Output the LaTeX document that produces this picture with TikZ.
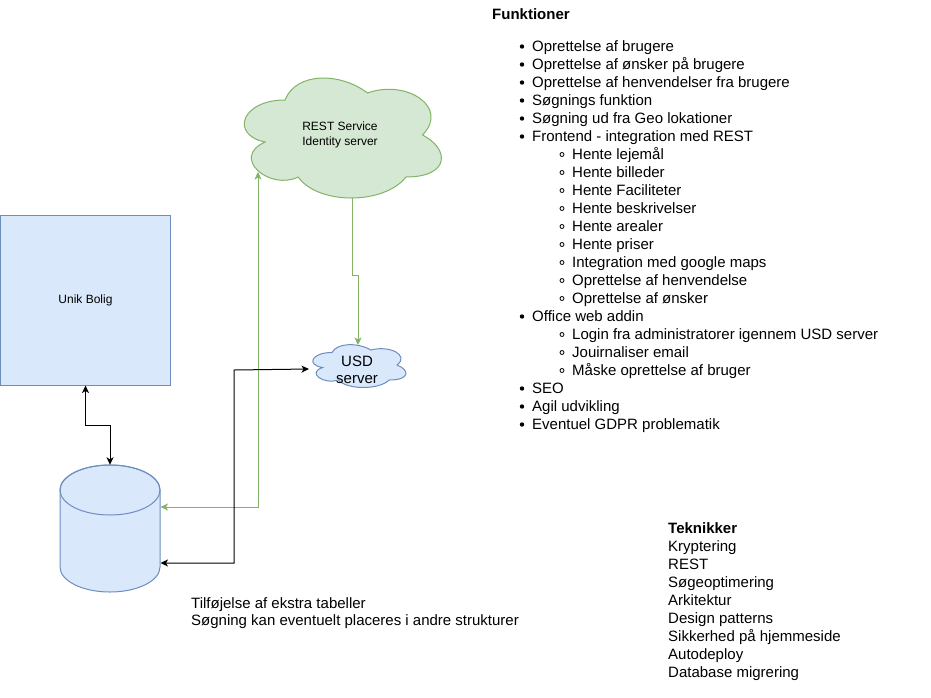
\documentclass[tikz,border=0pt]{standalone}
\usepackage{fontspec}
\setmainfont{Liberation Sans}
\usetikzlibrary{arrows.meta}
\definecolor{bluefill}{HTML}{DAE8FC}
\definecolor{bluedraw}{HTML}{6C8EBF}
\definecolor{greenfill}{HTML}{D5E8D4}
\definecolor{greendraw}{HTML}{82B366}
\newcommand{\drawcloudshape}[5]{%
  \path[#1] ({#2+0.25*#4},{#3+0.25*#5})
   .. controls ({#2+0.05*#4},{#3+0.25*#5}) and ({#2},{#3+0.5*#5}) .. ({#2+0.16*#4},{#3+0.55*#5})
   .. controls ({#2},{#3+0.66*#5}) and ({#2+0.18*#4},{#3+0.9*#5}) .. ({#2+0.31*#4},{#3+0.8*#5})
   .. controls ({#2+0.4*#4},{#3+#5}) and ({#2+0.7*#4},{#3+#5}) .. ({#2+0.8*#4},{#3+0.8*#5})
   .. controls ({#2+#4},{#3+0.8*#5}) and ({#2+#4},{#3+0.6*#5}) .. ({#2+0.875*#4},{#3+0.5*#5})
   .. controls ({#2+#4},{#3+0.3*#5}) and ({#2+0.8*#4},{#3+0.1*#5}) .. ({#2+0.625*#4},{#3+0.2*#5})
   .. controls ({#2+0.5*#4},{#3+0.05*#5}) and ({#2+0.3*#4},{#3+0.05*#5}) .. ({#2+0.25*#4},{#3+0.25*#5})
   -- cycle;}
\tikzset{
  blueshape/.style={draw=bluedraw, fill=bluefill, line width=1pt},
  greenshape/.style={draw=greendraw, fill=greenfill, line width=1pt},
  tip/.tip={Stealth[length=7.5pt,width=7pt,inset=2pt]},
  blkconn/.style={draw=black, line width=1pt, tip-tip},
  grnconn/.style={draw=greendraw, line width=1pt, tip-tip},
  grnone/.style={draw=greendraw, line width=1pt, -tip},
  lbl/.style={font=\fontsize{15}{18}\selectfont, anchor=base west, inner sep=0pt},
  lblbold/.style={lbl, font=\fontsize{15}{18}\selectfont\bfseries},
  small/.style={font=\fontsize{12}{14.4}\selectfont, align=center, inner sep=0pt},
}
\begin{document}
\begin{tikzpicture}[x=1pt,y=-1pt]
\fill[white] (0,0) rectangle (931,697);
\useasboundingbox (0,0) rectangle (931,697);

% Unik Bolig
\node[blueshape, minimum width=170pt, minimum height=170pt, inner sep=0pt,
      font=\fontsize{12}{14.4}\selectfont] (ub) at (85.5,300) {Unik Bolig};

% database cylinder
\path[blueshape] (60,490) -- (60,567) arc[start angle=180, end angle=0, x radius=50, y radius=25]
   -- (160,490) arc[start angle=0, end angle=-180, x radius=50, y radius=25] -- cycle;
\draw[draw=bluedraw, line width=1pt] (110,490) ellipse[x radius=50, y radius=25];
\node[minimum width=100pt, minimum height=127pt, inner sep=0pt] (db) at (110,528.5) {};

% clouds
\drawcloudshape{greenshape}{230}{65}{220}{140}
\node[small, minimum width=220pt, minimum height=140pt] (rest) at (340,135) {REST Service\\Identity server};
\drawcloudshape{blueshape}{306}{340}{104}{50}
\node[minimum width=104pt, minimum height=50pt, inner sep=0pt] (usd) at (358,365) {};
\node[font=\fontsize{15}{17}\selectfont, align=center, inner sep=0pt] (usdlabel) at (357,369.5) {USD\\server};

% connector coordinates
\coordinate (a1) at (ub.south);
\coordinate (a2) at (85.5,425);
\coordinate (a3) at (110,425);
\coordinate (a4) at (db.north);
\coordinate (g1) at (258,172);
\coordinate (g2) at (160.5,507);
\coordinate (h1) at (352,198);
\coordinate (h2) at (352,275);
\coordinate (h3) at (358,275);
\coordinate (h4) at (358,345);
\coordinate (b1) at (160.5,563);
\coordinate (b2) at (234,370);
\coordinate (b3) at (309,369);

\draw[blkconn] (a1) -- (a2) -- (a3) -- (a4);
\draw[grnconn] (g1) |- (g2);
\draw[grnone] (h1) -- (h2) -- (h3) -- (h4);
\draw[blkconn] (b1) -| (b2) -- (b3);

% Funktioner list
\node[lblbold] (ftitle) at (492,19) {Funktioner};
\foreach \lev/\txt [count=\i from 0] in {
  1/Oprettelse af brugere,
  1/Oprettelse af ønsker på brugere,
  1/Oprettelse af henvendelser fra brugere,
  1/Søgnings funktion,
  1/Søgning ud fra Geo lokationer,
  1/Frontend - integration med REST,
  2/Hente lejemål,
  2/Hente billeder,
  2/Hente Faciliteter,
  2/Hente beskrivelser,
  2/Hente arealer,
  2/Hente priser,
  2/Integration med google maps,
  2/Oprettelse af henvendelse,
  2/Oprettelse af ønsker,
  1/Office web addin,
  2/Login fra administratorer igennem USD server,
  2/Jouirnaliser email,
  2/Måske oprettelse af bruger,
  1/SEO,
  1/Agil udvikling,
  1/Eventuel GDPR problematik}
{
  \pgfmathsetmacro{\yb}{51.5+18*\i}
  \ifnum\lev=1
    \fill (522,\yb-5) circle[radius=2.2pt];
    \node[lbl] (f\i) at (532,\yb) {\txt};
  \else
    \draw[line width=0.8pt] (562,\yb-5) circle[radius=2pt];
    \node[lbl] (f\i) at (572,\yb) {\txt};
  \fi
}

% Teknikker
\node[lblbold] (ttitle) at (668,533) {Teknikker};
\foreach \txt [count=\i from 1] in {Kryptering, REST, Søgeoptimering, Arkitektur,
  Design patterns, Sikkerhed på hjemmeside, Autodeploy, Database migrering}
{
  \pgfmathsetmacro{\yb}{533+18*\i}
  \node[lbl] (t\i) at (668,\yb) {\txt};
}

% note
\node[lbl] (note1) at (191,608.5) {Tilføjelse af ekstra tabeller};
\node[lbl] (note2) at (191,625) {Søgning kan eventuelt placeres i andre strukturer};
\end{tikzpicture}
\end{document}
